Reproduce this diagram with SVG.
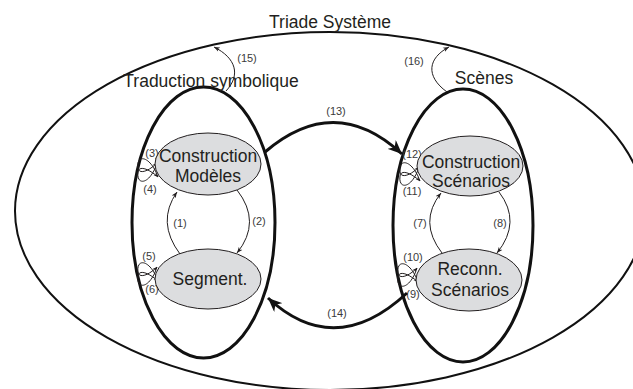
<svg xmlns="http://www.w3.org/2000/svg" width="633" height="389" viewBox="0 0 633 389">
<style>
.big{font-family:"Liberation Sans",Arial,sans-serif;font-size:17.5px;fill:#231f20;text-anchor:middle}
.sm{font-family:"Liberation Sans",Arial,sans-serif;font-size:11px;fill:#3a3a3a;text-anchor:middle}
.cont{fill:none;stroke:#111;stroke-width:3}
.outer{fill:none;stroke:#111;stroke-width:2}
.node{fill:#dcdddf;stroke:#231f20;stroke-width:1}
.thin{fill:none;stroke:#231f20;stroke-width:1}
.thick{fill:none;stroke:#111;stroke-width:3}
</style>
<defs>
<marker id="a" viewBox="0 0 10 10" refX="10" refY="5" markerWidth="6" markerHeight="6" markerUnits="userSpaceOnUse" orient="auto"><path d="M0,1 L10,5 L0,9 L3,5 z" fill="#231f20"/></marker>
<marker id="s" viewBox="0 0 10 10" refX="10" refY="5" markerWidth="4.5" markerHeight="4.5" markerUnits="userSpaceOnUse" orient="auto"><path d="M0,1 L10,5 L0,9 L3,5 z" fill="#231f20"/></marker>
<marker id="A" viewBox="0 0 14 12" refX="14" refY="6" markerWidth="14" markerHeight="12" markerUnits="userSpaceOnUse" orient="auto"><path d="M0,0 L14,6 L0,12 L4,6 z" fill="#111"/></marker>
<g id="loops">
<path class="thin" marker-end="url(#s)" d="M1,7 C-7,-15 -21,-16 -19,-2 C-18,5 -8,1 0,-7"/>
<path class="thin" marker-end="url(#s)" d="M0,-7 C-7,15 -21,16 -19,2 C-18,-5 -8,-1 1,7"/>
</g>
</defs>
<rect width="633" height="389" fill="#fff"/>
<g id="triade">
<ellipse class="outer" cx="330" cy="211" rx="315" ry="179"/>
<text class="big" x="330" y="28">Triade Système</text>
</g>
<g id="traduction">
<ellipse class="cont" cx="203.5" cy="222.5" rx="71.5" ry="135.5"/>
<text class="big" x="211" y="87">Traduction symbolique</text>
</g>
<g id="scenes">
<ellipse class="cont" cx="463" cy="225.5" rx="70" ry="136.5"/>
<text class="big" x="484" y="84">Scènes</text>
</g>
<g id="connectors">
<path class="thin" marker-end="url(#a)" d="M180,254 Q156,222 177,192"/>
<text class="sm" x="180" y="227">(1)</text>
<path class="thin" marker-end="url(#a)" d="M237,190 Q262,222 237,253"/>
<text class="sm" x="259" y="225">(2)</text>
<path class="thin" marker-end="url(#a)" d="M442,253 Q418,222 441,193"/>
<text class="sm" x="420" y="227">(7)</text>
<path class="thin" marker-end="url(#a)" d="M499,192 Q522,222 497,253"/>
<text class="sm" x="500" y="227">(8)</text>
<use href="#loops" transform="translate(157,170)"/>
<text class="sm" x="152" y="157">(3)</text>
<text class="sm" x="150" y="193">(4)</text>
<use href="#loops" transform="translate(157,274)"/>
<text class="sm" x="149" y="260">(5)</text>
<text class="sm" x="152" y="293">(6)</text>
<use href="#loops" transform="translate(419,174)"/>
<text class="sm" x="412" y="158">(12)</text>
<text class="sm" x="412" y="195">(11)</text>
<use href="#loops" transform="translate(417,275)"/>
<text class="sm" x="413" y="261">(10)</text>
<text class="sm" x="413" y="298">(9)</text>
<path class="thick" marker-end="url(#A)" d="M265,152 Q335,92 402,154"/>
<text class="sm" x="336" y="115">(13)</text>
<path class="thick" marker-end="url(#A)" d="M407,293 Q335,360 268,298"/>
<text class="sm" x="337" y="317">(14)</text>
<path class="thin" marker-end="url(#a)" d="M226,91 C241,75 236,58 214,47"/>
<text class="sm" x="247" y="62">(15)</text>
<path class="thin" marker-end="url(#a)" d="M447,92 C425,76 428,58 449,47"/>
<text class="sm" x="414" y="65">(16)</text>
</g>
<g id="construction-modeles">
<ellipse class="node" cx="208" cy="164" rx="53" ry="31"/>
<text class="big" x="208" y="162">Construction</text>
<text class="big" x="208" y="182">Modèles</text>
</g>
<g id="segment">
<ellipse class="node" cx="208" cy="279" rx="53" ry="30"/>
<text class="big" x="210" y="285">Segment.</text>
</g>
<g id="construction-scenarios">
<ellipse class="node" cx="470" cy="166" rx="53" ry="30"/>
<text class="big" x="471" y="168">Construction</text>
<text class="big" x="471" y="187">Scénarios</text>
</g>
<g id="reconn-scenarios">
<ellipse class="node" cx="469" cy="280" rx="53" ry="31"/>
<text class="big" x="470" y="275">Reconn.</text>
<text class="big" x="470" y="296">Scénarios</text>
</g>
</svg>
